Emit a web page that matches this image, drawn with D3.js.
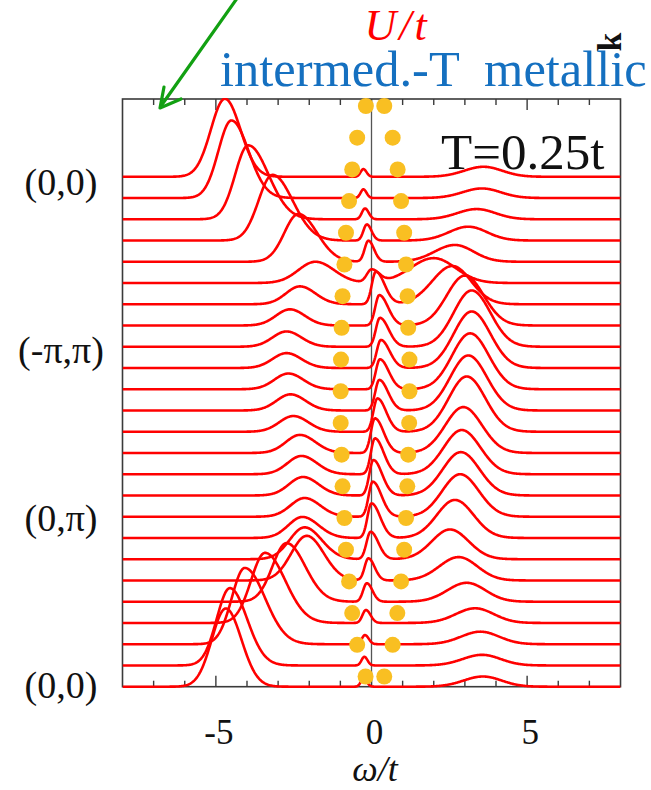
<!DOCTYPE html>
<html>
<head>
<meta charset="utf-8">
<script src="https://cdn.jsdelivr.net/npm/d3@7"></script>
<style>
  html, body { margin: 0; padding: 0; background: #fff; }
  svg { display: block; }
  text { font-family: "Liberation Serif", "Times New Roman", serif; }
</style>
</head>
<body>
<svg id="chart" width="651" height="790"></svg>
<script>
// Momentum path labels and the rows they sit on
const kPathLabels = ["(0,0)", "(-π,π)", "(0,π)", "(0,0)"];
const kPathLabelRows = [0, 8, 16, 24];

// Lower Hubbard band peak per k row (position ω/t, height in row units, left/right widths)
const lowerPos = [-4.71, -4.50, -3.96, -3.18, -2.35, -1.80, -2.30, -2.62, -2.73, -2.73, -2.67, -2.60, -2.51,
                  -2.30, -2.25, -2.20, -2.15, -2.22, -2.15, -2.08, -2.73, -3.42, -4.07, -4.55, -4.68];
const lowerAmp = [3.67, 3.65, 3.48, 3.09, 2.25, 1.00, 0.84, 0.76, 0.72, 0.70, 0.74, 0.76, 0.74,
                  0.85, 0.86, 0.87, 0.88, 0.99, 1.50, 2.10, 2.76, 3.30, 3.59, 3.64, 3.68];
const lowerWL = [0.45, 0.42, 0.42, 0.45, 0.45, 0.55, 0.45, 0.45, 0.45, 0.45, 0.45, 0.45, 0.45,
                 0.45, 0.45, 0.45, 0.45, 0.45, 0.48, 0.50, 0.45, 0.45, 0.42, 0.42, 0.45];
const lowerWR = [0.50, 0.55, 0.65, 0.65, 0.60, 0.60, 0.50, 0.48, 0.48, 0.48, 0.48, 0.48, 0.48,
                 0.50, 0.50, 0.50, 0.50, 0.52, 0.55, 0.55, 0.60, 0.65, 0.65, 0.55, 0.50];

// Quasiparticle peak near the Fermi level
const qpPos = [-0.26, -0.26, -0.21, -0.15, -0.10, 0.00, 0.14, 0.25, 0.27, 0.30, 0.27, 0.25, 0.19,
               0.11, 0.11, 0.06, 0.04, 0.00, -0.03, -0.10, -0.15, -0.18, -0.21, -0.23, -0.25];
const qpAmp = [0.36, 0.41, 0.51, 0.76, 0.99, 0.60, 1.53, 1.43, 1.36, 1.32, 1.41, 1.44, 1.57,
               1.63, 1.69, 1.67, 1.65, 1.63, 1.29, 1.04, 0.87, 0.61, 0.43, 0.41, 0.39];
const qpWL = [0.09, 0.09, 0.10, 0.11, 0.12, 0.15, 0.13, 0.13, 0.13, 0.13, 0.13, 0.13, 0.13,
              0.13, 0.13, 0.13, 0.13, 0.13, 0.13, 0.12, 0.12, 0.11, 0.10, 0.09, 0.09];
const qpWR = [0.10, 0.10, 0.12, 0.15, 0.18, 0.25, 0.28, 0.28, 0.28, 0.28, 0.28, 0.28, 0.28,
              0.28, 0.28, 0.28, 0.28, 0.28, 0.25, 0.20, 0.18, 0.15, 0.12, 0.10, 0.10];

// Upper Hubbard band peak
const upperPos = [3.60, 3.55, 3.38, 3.11, 2.68, 2.00, 2.60, 3.00, 3.22, 3.22, 3.17, 3.11, 3.06,
                  2.95, 2.90, 2.87, 2.85, 2.68, 2.52, 2.80, 3.06, 3.33, 3.50, 3.55, 3.58];
const upperAmp = [0.47, 0.45, 0.48, 0.65, 0.79, 1.17, 1.80, 2.35, 2.65, 2.66, 2.63, 2.59, 2.60,
                  2.16, 2.08, 2.04, 2.00, 1.79, 1.40, 1.10, 0.89, 0.69, 0.59, 0.50, 0.48];
const upperWL = [0.62, 0.62, 0.62, 0.62, 0.65, 0.75, 0.65, 0.58, 0.58, 0.58, 0.58, 0.58, 0.58,
                 0.58, 0.58, 0.58, 0.58, 0.58, 0.58, 0.62, 0.62, 0.62, 0.62, 0.62, 0.62];
const upperWR = [0.60, 0.60, 0.60, 0.60, 0.60, 0.70, 0.60, 0.60, 0.60, 0.60, 0.60, 0.60, 0.60,
                 0.60, 0.60, 0.60, 0.60, 0.60, 0.60, 0.60, 0.60, 0.60, 0.60, 0.60, 0.60];

// Yellow markers: left and right positions (ω/t) on each marker row
const dotLeft  = [-0.18, -0.46, -0.62, -0.72, -0.82, -0.87, -0.93, -0.96, -0.98, -0.99,
                  -0.99, -0.96, -0.93, -0.87, -0.82, -0.72, -0.62, -0.46, -0.19];
const dotRight = [0.41, 0.68, 0.84, 0.95, 1.05, 1.11, 1.16, 1.18, 1.22, 1.22,
                  1.21, 1.18, 1.15, 1.11, 1.05, 0.95, 0.83, 0.68, 0.41];

// Axis ticks
const tickValues = d3.range(-7, 8);
const majorTicks = [-5, 0, 5];
const tickLabels = ["-5", "0", "5"];

const nRows = lowerPos.length;
const svg = d3.select("#chart");

const plot = { left: 122.5, right: 620.5, top: 99, bottom: 686.7 };
const x = d3.scaleLinear().domain([-8, 8]).range([plot.left, plot.right]);
// one unit = spacing between stacked curves; row 0 at the top
const y = d3.scaleLinear().domain([0, 27.66]).range([plot.bottom, plot.top]);
const dotY = d3.scaleLinear().domain([0, dotLeft.length - 1]).range([106, 676.5]);
const labelY = d3.scaleLinear().domain([0, kPathLabels.length - 1]).range([185.5, 688.5]);

function peak(w, p, h, sl, sr) {
  const s = w < p ? sl : sr;
  const d = (w - p) / s;
  return h * Math.exp(-0.5 * d * d);
}
function spectral(k, w) {
  return peak(w, lowerPos[k], lowerAmp[k], lowerWL[k], lowerWR[k]) +
         peak(w, qpPos[k], qpAmp[k], qpWL[k], qpWR[k]) +
         peak(w, upperPos[k], upperAmp[k], upperWL[k], upperWR[k]);
}

const omegaGrid = d3.range(-8, 8.0001, 0.02);

svg.append("defs").append("clipPath").attr("id", "plotClip")
  .append("rect")
  .attr("x", plot.left).attr("y", plot.top - 1)
  .attr("width", plot.right - plot.left).attr("height", plot.bottom - plot.top + 3);

// zero-energy line
svg.append("line")
  .attr("x1", x(0)).attr("x2", x(0))
  .attr("y1", plot.top).attr("y2", plot.bottom)
  .attr("stroke", "#555").attr("stroke-width", 1.3);

// frame
svg.append("rect")
  .attr("x", plot.left).attr("y", plot.top)
  .attr("width", plot.right - plot.left).attr("height", plot.bottom - plot.top)
  .attr("fill", "none").attr("stroke", "#3a3a3a").attr("stroke-width", 1.6);

// inward ticks on bottom and top
const tickG = svg.append("g").attr("stroke", "#3a3a3a").attr("stroke-width", 1.4);
tickValues.forEach(v => {
  const len = majorTicks.includes(v) ? 11 : 6;
  tickG.append("line").attr("x1", x(v)).attr("x2", x(v))
    .attr("y1", plot.bottom).attr("y2", plot.bottom - len);
  tickG.append("line").attr("x1", x(v)).attr("x2", x(v))
    .attr("y1", plot.top).attr("y2", plot.top + len);
});

// stacked spectra
const line = d3.line()
  .x(d => x(d[0]))
  .y(d => y(d[1]))
  .curve(d3.curveLinear);

svg.append("g").attr("clip-path", "url(#plotClip)")
  .selectAll("path")
  .data(d3.range(nRows))
  .join("path")
  .attr("d", k => line(omegaGrid.map(w => [w, (nRows - 1 - k) + spectral(k, w)])))
  .attr("fill", "none")
  .attr("stroke", "#ff0000")
  .attr("stroke-width", 2.6)
  .attr("stroke-linejoin", "round");

// markers
const dotG = svg.append("g").attr("fill", "#f9bf22");
dotLeft.forEach((v, i) => {
  dotG.append("circle").attr("cx", x(v)).attr("cy", dotY(i)).attr("r", 8);
  dotG.append("circle").attr("cx", x(dotRight[i])).attr("cy", dotY(i)).attr("r", 8);
});

// tick labels
svg.append("g").selectAll("text")
  .data(majorTicks)
  .join("text")
  .attr("x", v => x(v) + 3)
  .attr("y", 744)
  .attr("text-anchor", "middle")
  .attr("font-size", 35)
  .attr("fill", "#111")
  .text((v, i) => tickLabels[i]);

// x-axis title
const xt = svg.append("text")
  .attr("x", 375).attr("y", 781)
  .attr("text-anchor", "middle")
  .attr("font-size", 36)
  .attr("font-style", "italic")
  .attr("fill", "#111");
xt.append("tspan").text("ω");
xt.append("tspan").text("/t");

// momentum labels
svg.append("g").selectAll("text")
  .data(kPathLabels)
  .join("text")
  .attr("x", 61)
  .attr("y", (d, i) => labelY(i) + 9.7)
  .attr("text-anchor", "middle")
  .attr("font-size", 38)
  .attr("fill", "#111")
  .text(d => d);

// temperature annotation
svg.append("text")
  .attr("x", 441).attr("y", 169)
  .attr("font-size", 51)
  .attr("fill", "#111")
  .text("T=0.25t");

// headings above the panel
svg.append("text")
  .attr("x", 397).attr("y", 40)
  .attr("text-anchor", "middle")
  .attr("font-size", 44)
  .attr("font-style", "italic")
  .attr("letter-spacing", 3)
  .attr("fill", "#ff0000")
  .text("U/t");

svg.append("text")
  .attr("x", 220).attr("y", 86)
  .attr("font-size", 50.5)
  .attr("fill", "#1570c0")
  .style("white-space", "pre")
  .text("intermed.-T  metallic");

// rotated k mark
svg.append("text")
  .attr("transform", "translate(609,42) rotate(-90)")
  .attr("text-anchor", "middle")
  .attr("dominant-baseline", "central")
  .attr("font-size", 34)
  .attr("font-weight", "bold")
  .attr("fill", "#111")
  .text("k");

// green pointer arrow
const arrowG = svg.append("g")
  .attr("stroke", "#12a012").attr("stroke-width", 3.2)
  .attr("fill", "none").attr("stroke-linecap", "round").attr("stroke-linejoin", "round");
arrowG.append("line").attr("x1", 238).attr("y1", -3).attr("x2", 161).attr("y2", 106);
arrowG.append("polyline").attr("points", "164,87 160,108 181,99");
</script>
</body>
</html>
